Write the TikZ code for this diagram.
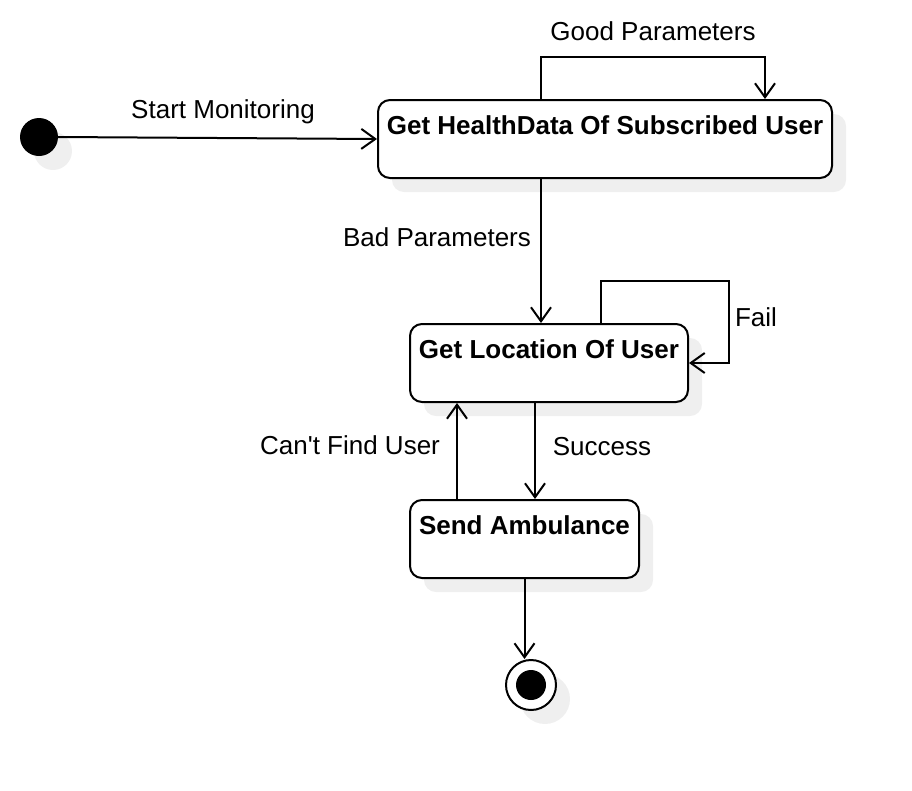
\documentclass[tikz,border=0pt]{standalone}
\usepackage{fontspec}
\setmainfont{Liberation Sans}[Ligatures=TeXOff]
\usetikzlibrary{arrows.meta,calc}
\definecolor{shadowgray}{HTML}{EFEFEF}
\tikzset{
  x=1pt, y=-1pt,
  every node/.style={font=\fontsize{26}{30}\selectfont},
  statebox/.style={draw, line width=2pt, rounded corners=12pt, fill=white, inner sep=0pt},
  shadowbox/.style={fill=shadowgray, rounded corners=12pt},
  title/.style={font=\fontsize{26}{30}\selectfont\bfseries, inner sep=0pt},
  lbl/.style={inner sep=0pt},
  arr/.style={line width=2pt, -{Straight Barb[length=14pt,width=20pt,line width=2pt]}},
}
\begin{document}
\begin{tikzpicture}
\useasboundingbox (0,0) rectangle (912,790);
% shadows
\fill[shadowgray] (53,151) circle (19);
\fill[shadowbox] (392,114) rectangle (846,192);
\fill[shadowbox] (424,338) rectangle (702,416);
\fill[shadowbox] (424,514) rectangle (653,592);
\fill[shadowgray] (545,699) circle (25);
% start
\node[circle, fill=black, minimum size=38pt, inner sep=0pt] (s) at (39,137) {};
% states
\node[statebox, minimum width=454pt, minimum height=78pt] (b1) at (605,139) {};
\node[title] (t1) at (605,125) {Get HealthData Of Subscribed User};
\node[statebox, minimum width=278pt, minimum height=78pt] (b2) at (549,363) {};
\node[title] (t2) at (549,349) {Get Location Of User};
\node[statebox, minimum width=229pt, minimum height=78pt] (b3) at (524.5,539) {};
\node[title] (t3) at (524.5,525) {Send Ambulance};
% end
\node[circle, draw, line width=2pt, fill=white, minimum size=50pt, inner sep=0pt] (e) at (531,685) {};
\node[circle, fill=black, minimum size=30pt, inner sep=0pt] (ei) at (531,685) {};
% coordinates
\coordinate (g1) at ([xshift=164pt]b1.north west);
\coordinate (g2) at ([xshift=388pt]b1.north west);
\coordinate (bp) at ([xshift=164pt]b1.south west);
\coordinate (f1) at ([xshift=192pt]b2.north west);
\coordinate (sc) at ([xshift=126pt]b2.south west);
\coordinate (cf) at ([xshift=48pt]b3.north west);
\coordinate (fe) at ([xshift=115.5pt]b3.south west);
% edges
\draw[arr] (s.east) -- (b1.west);
\node[lbl] (l1) at (223,112) {Start Monitoring};
\draw[arr] (g1) -- ++(0,-42) -| (g2);
\node[lbl] (l2) at (653,31) {Good Parameters};
\draw[arr] (bp) -- (bp |- b2.north);
\node[lbl] (l3) at (437,237) {Bad Parameters};
\draw[arr] (f1) -- ++(0,-42) -- ++(128,0) |- (b2.east);
\node[lbl] (l4) at (756,317) {Fail};
\draw[arr] (sc) -- (sc |- b3.north);
\node[lbl] (l5) at (602,447) {Success};
\draw[arr] (cf) -- (cf |- b2.south);
\node[lbl] (l6) at (350,445) {Can't Find User};
\draw[arr] (fe) -- (fe |- e.north);
\end{tikzpicture}
\end{document}
